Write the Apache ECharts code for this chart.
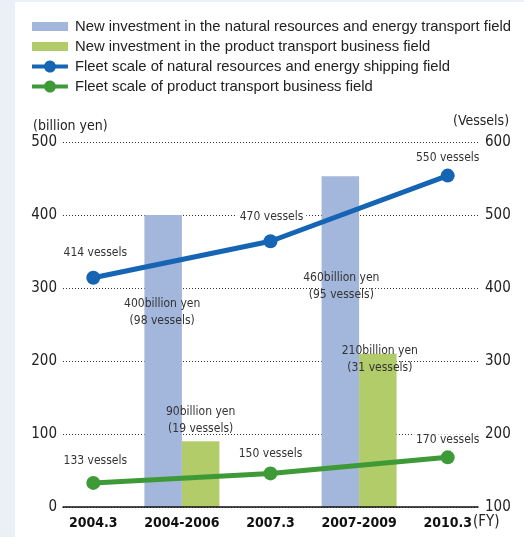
<!DOCTYPE html>
<html>
<head>
<meta charset="utf-8">
<script src="https://cdn.jsdelivr.net/npm/echarts@6/dist/echarts.min.js"></script>
<style>
  html, body { margin: 0; padding: 0; background: #fff; }
  #chart { width: 524px; height: 537px; }
</style>
</head>
<body>
<div id="chart"></div>
<script>
  // data
  var categories = ['2004.3', '2004-2006', '2007.3', '2007-2009', '2010.3'];
  var energyInvest = [null, 400, null, 453, null];
  var productInvest = [null, 90, null, 210, null];
  var energyFleet = [414, null, 464, null, 554];
  var productFleet = [133, null, 146, null, 168];
  var energyInvestText = ['', '400billion yen\n(98 vessels)', '', '460billion yen\n(95 vessels)', ''];
  var productInvestText = ['', '90billion yen\n(19 vessels)', '', '210billion yen\n(31 vessels)', ''];
  var energyFleetText = ['414 vessels', '', '470 vessels', '', '550 vessels'];
  var productFleetText = ['133 vessels', '', '150 vessels', '', '170 vessels'];
  var leftTicks = [0, 100, 200, 300, 400, 500];
  var rightTicks = [100, 200, 300, 400, 500, 600];

  var names = [
    'New investment in the natural resources and energy transport field',
    'New investment in the product transport business field',
    'Fleet scale of natural resources and energy shipping field',
    'Fleet scale of product transport business field'
  ];

  var narrow = '"DejaVu Sans Condensed", "Liberation Sans Narrow", sans-serif';
  var regular = '"Liberation Sans", Arial, sans-serif';
  var blueBar = '#a3b6dc', greenBar = '#b2cc6a', blueLine = '#1565b4', greenLine = '#3e9a37';
  // thick line with a dot in the middle, for the legend
  var lineIcon = 'path://M0,4H12.34A6,6 0 0 1 23.66,4H36V8H23.66A6,6 0 0 1 12.34,8H0Z';

  var chart = echarts.init(document.getElementById('chart'));

  function barItems(vals, texts, cfg) {
    return vals.map(function (v, i) {
      if (v == null) return null;
      var c = cfg[i] || {};
      return { value: v, label: { formatter: texts[i], position: c.pos, offset: c.off } };
    });
  }
  function lineItems(vals, texts, cfg) {
    return vals.map(function (v, i) {
      if (v == null) return null;
      var c = cfg[i] || {};
      return {
        value: v,
        label: {
          formatter: texts[i], offset: c.off,
          backgroundColor: c.bg ? '#fff' : 'transparent', padding: c.bg ? [0, 3] : 0
        }
      };
    });
  }

  var barLabel = { show: true, color: '#333', fontFamily: narrow, fontSize: 12, lineHeight: 17 };
  var lineLabel = { show: true, position: 'top', color: '#333', fontFamily: narrow, fontSize: 12 };
  var legendText = { fontFamily: regular, fontSize: 14.8, color: '#222', padding: [0, 0, 0, 2] };

  var option = {
    backgroundColor: '#fff',
    animation: false,
    graphic: [
      { type: 'rect', left: 0, top: 0, shape: { width: 15, height: 537 }, style: { fill: '#ebf0f8' } },
      { type: 'rect', left: 0, top: 0, shape: { width: 524, height: 2 }, style: { fill: '#ebf0f8' } },
      { type: 'text', left: 33, top: 119, style: { text: '(billion yen)', font: '14px ' + narrow, fill: '#222' } },
      { type: 'text', left: 453, top: 114, style: { text: '(Vessels)', font: '14px ' + narrow, fill: '#222' } },
      { type: 'text', left: 473, top: 515, style: { text: '(FY)', font: '15px ' + narrow, fill: '#222' } }
    ],
    legend: [
      {
        orient: 'vertical', left: 32, top: 19, padding: 0,
        itemGap: 5, itemWidth: 36, itemHeight: 9,
        textStyle: legendText,
        data: [{ name: names[0], icon: 'rect' }, { name: names[1], icon: 'rect' }]
      },
      {
        orient: 'vertical', left: 32, top: 59, padding: 0,
        itemGap: 5, itemWidth: 36, itemHeight: 12,
        textStyle: legendText,
        data: [{ name: names[2], icon: lineIcon }, { name: names[3], icon: lineIcon }]
      }
    ],
    grid: [
      { left: 49, right: 32, top: 142, bottom: 30 },
      { left: 63, right: 46, top: 142, bottom: 30 }
    ],
    xAxis: [
      {
        type: 'category', gridIndex: 0, data: categories,
        axisLine: { show: false }, axisTick: { show: false },
        axisLabel: { interval: 0, color: '#111', fontFamily: narrow, fontWeight: 'bold', fontSize: 14, margin: 9 }
      },
      {
        type: 'value', gridIndex: 1, min: 0, max: 1, z: 10,
        axisLine: { show: true, lineStyle: { color: '#111', width: 1.5 } },
        axisTick: { show: false }, axisLabel: { show: false }, splitLine: { show: false }
      }
    ],
    yAxis: [
      {
        type: 'value', gridIndex: 1, min: leftTicks[0], max: leftTicks[leftTicks.length - 1], interval: 100,
        axisLine: { show: false }, axisTick: { show: false },
        axisLabel: { color: '#222', fontFamily: narrow, fontSize: 15, margin: 6 },
        splitLine: { lineStyle: { color: '#333', type: [1, 2], width: 1 } }
      },
      {
        type: 'value', gridIndex: 1, position: 'right',
        min: rightTicks[0], max: rightTicks[rightTicks.length - 1], interval: 100,
        axisLine: { show: false }, axisTick: { show: false },
        axisLabel: { color: '#222', fontFamily: narrow, fontSize: 15, margin: 7 },
        splitLine: { show: false }
      },
      { type: 'value', gridIndex: 0, min: 0, max: 500, show: false },
      { type: 'value', gridIndex: 0, min: 100, max: 600, show: false }
    ],
    series: [
      {
        name: names[0],
        type: 'bar', xAxisIndex: 0, yAxisIndex: 2,
        barWidth: 37.5, barGap: '0%',
        itemStyle: { color: blueBar },
        label: barLabel,
        data: barItems(energyInvest, energyInvestText, {
          1: { pos: 'insideTop', off: [-1, 75] },
          3: { pos: 'insideTop', off: [1, 88] }
        })
      },
      {
        name: names[1],
        type: 'bar', xAxisIndex: 0, yAxisIndex: 2,
        barWidth: 37.5, barGap: '0%',
        itemStyle: { color: greenBar },
        label: barLabel,
        data: barItems(productInvest, productInvestText, {
          1: { pos: 'top', off: [0, 1] },
          3: { pos: 'insideTop', off: [2, -16] }
        })
      },
      {
        name: names[2],
        type: 'line', xAxisIndex: 0, yAxisIndex: 3, connectNulls: true,
        symbol: 'circle', symbolSize: 14, z: 5,
        lineStyle: { color: blueLine, width: 5 },
        itemStyle: { color: blueLine },
        label: lineLabel,
        data: lineItems(energyFleet, energyFleetText, {
          0: { off: [2, -7] },
          2: { off: [1, -6], bg: true },
          4: { off: [0, 0] }
        })
      },
      {
        name: names[3],
        type: 'line', xAxisIndex: 0, yAxisIndex: 3, connectNulls: true,
        symbol: 'circle', symbolSize: 14, z: 5,
        lineStyle: { color: greenLine, width: 5 },
        itemStyle: { color: greenLine },
        label: lineLabel,
        data: lineItems(productFleet, productFleetText, {
          0: { off: [2, -4] },
          2: { off: [0, -2] },
          4: { off: [0, 1], bg: true }
        })
      }
    ]
  };

  chart.setOption(option);
  window.addEventListener('resize', function () {
    chart.resize();
  });
</script>
</body>
</html>
